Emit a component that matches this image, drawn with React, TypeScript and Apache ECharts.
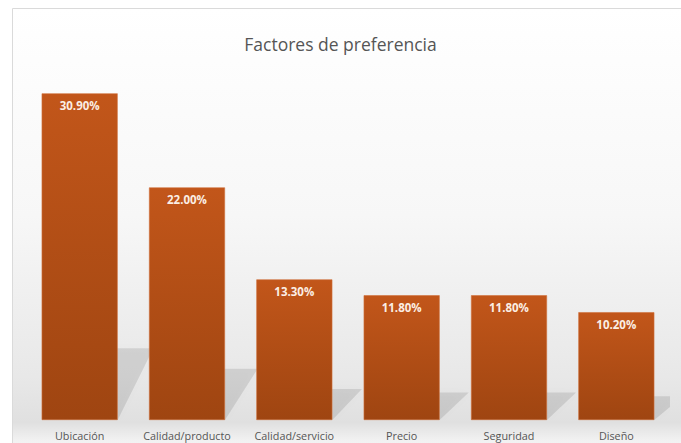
import React, { useEffect, useRef } from "react";
import * as echarts from "echarts";

const categories = ["Ubicación", "Calidad/producto", "Calidad/servicio", "Precio", "Seguridad", "Diseño"];
const values = [30.9, 22.0, 13.3, 11.8, 11.8, 10.2];
const titleText = "Factores de preferencia";

export default function App() {
  const ref = useRef<HTMLDivElement>(null);
  useEffect(() => {
    const chart = echarts.init(ref.current!, null, { renderer: "svg" });
    const font = "'Open Sans', 'Noto Sans', sans-serif";
    chart.setOption({
      animation: false,
      title: {
        text: titleText,
        left: "center",
        top: 30,
        textStyle: { fontFamily: font, fontSize: 17.5, fontWeight: "normal", color: "#555" },
      },
      graphic: [
        {
          type: "rect",
          z: -100,
          silent: true,
          shape: { x: 12.5, y: 8.5, width: 700, height: 460 },
          style: {
            fill: new echarts.graphic.LinearGradient(0, 0, 0, 1, [
              { offset: 0, color: "#ffffff" },
              { offset: 0.45, color: "#f7f7f7" },
              { offset: 0.8, color: "#e8e8e8" },
              { offset: 0.9, color: "#e0e0e0" },
              { offset: 0.94, color: "#f2f2f2" },
              { offset: 1, color: "#f7f7f7" },
            ]),
            stroke: "#dadada",
            lineWidth: 1,
          },
        },
      ],
      grid: { left: 26, right: 11, top: 50, bottom: 23, containLabel: false },
      xAxis: {
        type: "category",
        data: categories,
        axisLine: { show: false },
        axisTick: { show: false },
        axisLabel: { fontFamily: font, fontSize: 10.8, color: "#555", margin: 10, interval: 0 },
      },
      yAxis: {
        type: "value",
        min: 0,
        max: 35,
        show: false,
        splitLine: { show: false },
      },
      series: [
        {
          type: "custom",
          clip: true,
          z: 1,
          silent: true,
          data: values.map((v, i) => [i, v]),
          encode: { x: 0, y: 1 },
          renderItem: (params: any, api: any) => {
            const idx = api.value(0);
            const v = api.value(1);
            const base = api.coord([idx, 0]);
            const top = api.coord([idx, v]);
            const h = base[1] - top[1];
            const bw = 76;
            const x0 = base[0] - bw / 2;
            const x1 = base[0] + bw / 2;
            const y = base[1];
            const dy = h * 0.22;
            const dx = 25 + dy * 0.15;
            return {
              type: "polygon",
              shape: {
                points: [
                  [x0, y],
                  [x1, y],
                  [x1 + dx, y - dy],
                  [x0 + dx, y - dy],
                ],
              },
              style: {
                fill: "rgba(0,0,0,0.1)",
                shadowBlur: 8,
                shadowColor: "rgba(0,0,0,0.12)",
              },
            };
          },
        },
        {
          type: "bar",
          z: 2,
          barWidth: 76,
          data: values,
          itemStyle: {
            color: new echarts.graphic.LinearGradient(0, 0, 0, 1, [
              { offset: 0, color: "#c2561a" },
              { offset: 1, color: "#9f4511" },
            ]),
            borderColor: "#d0703a",
            borderWidth: 0.6,
          },
          label: {
            show: true,
            position: "insideTop",
            distance: 6,
            formatter: (p: any) => p.value.toFixed(2) + "%",
            fontFamily: font,
            fontSize: 11.5,
            fontWeight: "bold",
            color: "#fbeee4",
          },
        },
      ],
    });
    return () => chart.dispose();
  }, []);
  return <div ref={ref} style={{ width: 681, height: 443, position: "absolute", left: 0, top: 0 }} />;
}
